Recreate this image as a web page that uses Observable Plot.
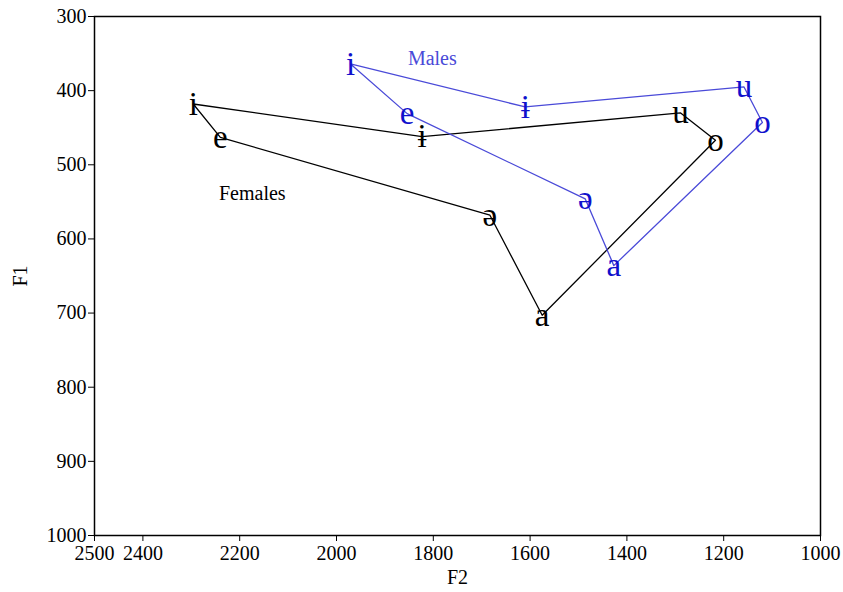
<!DOCTYPE html>
<html>
<head>
<meta charset="utf-8">
<script src="https://cdn.jsdelivr.net/npm/d3@7"></script>
<script src="https://cdn.jsdelivr.net/npm/@observablehq/plot@0.6"></script>
<style>
  body { margin: 0; background: #fff; }
</style>
</head>
<body>
<div id="chart"></div>
<script>
const femaleVowels = ["i", "e", "ə", "a", "o", "u", "ɨ"];
const femaleF2 = [2296, 2240, 1683, 1575, 1217, 1289, 1823];
const femaleF1 = [418, 463, 568, 703, 467, 430, 462];

const maleVowels = ["i", "ɨ", "u", "o", "a", "ə", "e"];
const maleF2 = [1971, 1610, 1158, 1120, 1427, 1486, 1854];
const maleF1 = [364, 422, 395, 443, 636, 546, 431];

const groupNames = ["Females", "Males"];
const groupF2 = [2174, 1802];
const groupF1 = [539, 357];

const xTicks = [2500, 2400, 2200, 2000, 1800, 1600, 1400, 1200, 1000];
const yTicks = [300, 400, 500, 600, 700, 800, 900, 1000];

const females = femaleVowels.map((v, i) => ({vowel: v, F2: femaleF2[i], F1: femaleF1[i]}));
const males = maleVowels.map((v, i) => ({vowel: v, F2: maleF2[i], F1: maleF1[i]}));
const groups = groupNames.map((g, i) => ({name: g, F2: groupF2[i], F1: groupF1[i]}));

const lineBlue = "#4a4ad8";
const textBlue = "#1010cc";

const chart = Plot.plot({
  width: 843,
  height: 592,
  marginLeft: 94,
  marginTop: 16,
  marginRight: 23,
  marginBottom: 57,
  style: {fontFamily: "Liberation Serif", background: "#fff", color: "#000"},
  x: {domain: [2500, 1000]},
  y: {domain: [1000, 300]},
  marks: [
    Plot.frame({stroke: "#000", strokeWidth: 1.5}),
    Plot.axisX({ticks: xTicks, tickSize: 6, tickPadding: 4, fontSize: 20, tickFormat: d => String(d),
      label: "F2", labelAnchor: "center", labelArrow: "none", labelOffset: 48}),
    Plot.axisY({ticks: yTicks, tickSize: 6, tickPadding: 2, fontSize: 20, tickFormat: d => String(d),
      label: "F1", labelAnchor: "center", labelArrow: "none", labelOffset: 82}),
    Plot.line(females, {x: "F2", y: "F1", curve: "linear-closed", stroke: "#000", strokeWidth: 1.3}),
    Plot.line(males, {x: "F2", y: "F1", curve: "linear-closed", stroke: lineBlue, strokeWidth: 1.3}),
    Plot.text(females, {x: "F2", y: "F1", text: "vowel", fontSize: 33, fill: "#000"}),
    Plot.text(males, {x: "F2", y: "F1", text: "vowel", fontSize: 33, fill: textBlue}),
    Plot.text(groups, {x: "F2", y: "F1", text: "name", fontSize: 20,
      fill: (d) => d.name === "Males" ? lineBlue : "#000"})
  ]
});

document.getElementById("chart").appendChild(chart);
</script>
</body>
</html>
